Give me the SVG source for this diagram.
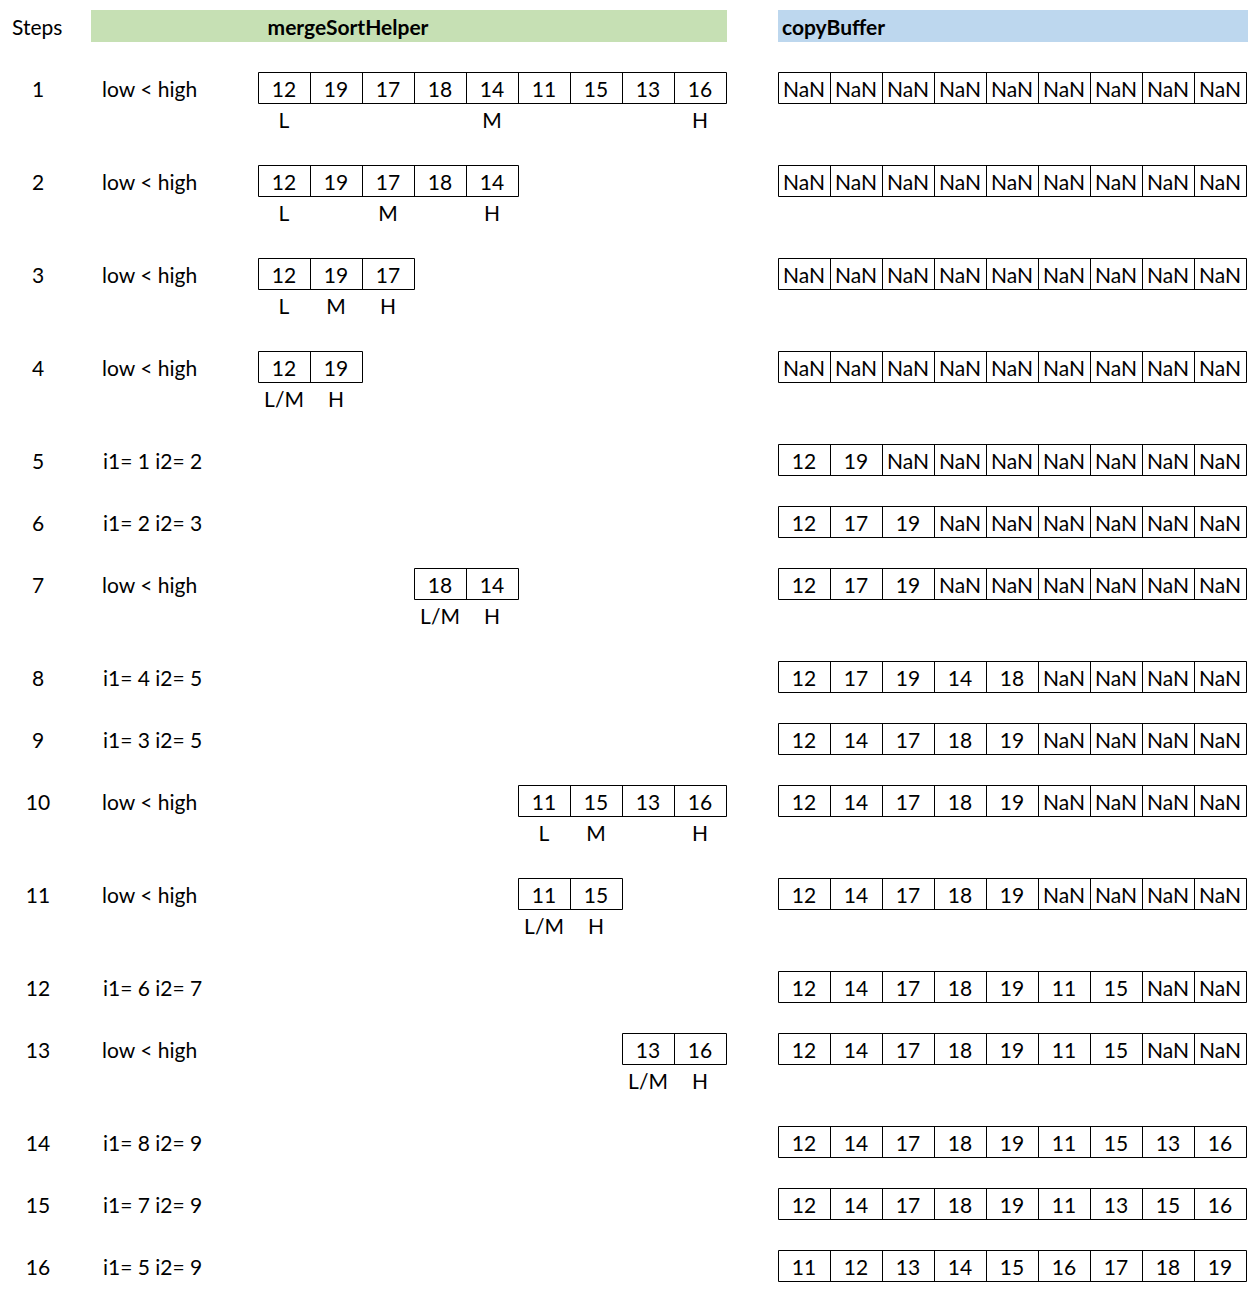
<svg xmlns="http://www.w3.org/2000/svg" xmlns:xlink="http://www.w3.org/1999/xlink" width="1253" height="1289" viewBox="0 0 1253 1289">
<style>
text{font-family:Lato,"Open Sans","Liberation Sans",sans-serif;font-size:21px;fill:#000}
.c{text-anchor:middle}
.b{font-weight:bold}
.g{fill:none;stroke:#000;stroke-width:1}
</style>
<defs>
<path id="g9" class="g" d="M0.5 0.5H468.5V31.5H0.5Z M52.5 0.5V31.5 M104.5 0.5V31.5 M156.5 0.5V31.5 M208.5 0.5V31.5 M260.5 0.5V31.5 M312.5 0.5V31.5 M364.5 0.5V31.5 M416.5 0.5V31.5"/>
<path id="g5" class="g" d="M0.5 0.5H260.5V31.5H0.5Z M52.5 0.5V31.5 M104.5 0.5V31.5 M156.5 0.5V31.5 M208.5 0.5V31.5"/>
<path id="g4" class="g" d="M0.5 0.5H208.5V31.5H0.5Z M52.5 0.5V31.5 M104.5 0.5V31.5 M156.5 0.5V31.5"/>
<path id="g3" class="g" d="M0.5 0.5H156.5V31.5H0.5Z M52.5 0.5V31.5 M104.5 0.5V31.5"/>
<path id="g2" class="g" d="M0.5 0.5H104.5V31.5H0.5Z M52.5 0.5V31.5"/>
</defs>
<rect width="1253" height="1289" fill="#fff"/>
<g id="header">
<text x="12" y="35">Steps</text>
<rect x="91" y="10" width="636" height="32" fill="#C6E0B4"/>
<text class="b c" x="348" y="35">mergeSortHelper</text>
<rect x="778" y="10" width="470" height="32" fill="#BDD7EE"/>
<text class="b" x="782" y="35">copyBuffer</text>
</g>

<g id="row1" transform="translate(0,72)">
<text class="c" x="38" y="25">1</text><text x="102" y="25">low &lt; high</text>
<use xlink:href="#g9" x="258"/>
<text class="c" x="284" y="25">12</text><text class="c" x="336" y="25">19</text><text class="c" x="388" y="25">17</text><text class="c" x="440" y="25">18</text><text class="c" x="492" y="25">14</text><text class="c" x="544" y="25">11</text><text class="c" x="596" y="25">15</text><text class="c" x="648" y="25">13</text><text class="c" x="700" y="25">16</text>
<text class="c" x="284" y="56">L</text><text class="c" x="492" y="56">M</text><text class="c" x="700" y="56">H</text>
<use xlink:href="#g9" x="778"/>
<text class="c" x="804" y="25">NaN</text><text class="c" x="856" y="25">NaN</text><text class="c" x="908" y="25">NaN</text><text class="c" x="960" y="25">NaN</text><text class="c" x="1012" y="25">NaN</text><text class="c" x="1064" y="25">NaN</text><text class="c" x="1116" y="25">NaN</text><text class="c" x="1168" y="25">NaN</text><text class="c" x="1220" y="25">NaN</text>
</g>

<g id="row2" transform="translate(0,165)">
<text class="c" x="38" y="25">2</text><text x="102" y="25">low &lt; high</text>
<use xlink:href="#g5" x="258"/>
<text class="c" x="284" y="25">12</text><text class="c" x="336" y="25">19</text><text class="c" x="388" y="25">17</text><text class="c" x="440" y="25">18</text><text class="c" x="492" y="25">14</text>
<text class="c" x="284" y="56">L</text><text class="c" x="388" y="56">M</text><text class="c" x="492" y="56">H</text>
<use xlink:href="#g9" x="778"/>
<text class="c" x="804" y="25">NaN</text><text class="c" x="856" y="25">NaN</text><text class="c" x="908" y="25">NaN</text><text class="c" x="960" y="25">NaN</text><text class="c" x="1012" y="25">NaN</text><text class="c" x="1064" y="25">NaN</text><text class="c" x="1116" y="25">NaN</text><text class="c" x="1168" y="25">NaN</text><text class="c" x="1220" y="25">NaN</text>
</g>

<g id="row3" transform="translate(0,258)">
<text class="c" x="38" y="25">3</text><text x="102" y="25">low &lt; high</text>
<use xlink:href="#g3" x="258"/>
<text class="c" x="284" y="25">12</text><text class="c" x="336" y="25">19</text><text class="c" x="388" y="25">17</text>
<text class="c" x="284" y="56">L</text><text class="c" x="336" y="56">M</text><text class="c" x="388" y="56">H</text>
<use xlink:href="#g9" x="778"/>
<text class="c" x="804" y="25">NaN</text><text class="c" x="856" y="25">NaN</text><text class="c" x="908" y="25">NaN</text><text class="c" x="960" y="25">NaN</text><text class="c" x="1012" y="25">NaN</text><text class="c" x="1064" y="25">NaN</text><text class="c" x="1116" y="25">NaN</text><text class="c" x="1168" y="25">NaN</text><text class="c" x="1220" y="25">NaN</text>
</g>

<g id="row4" transform="translate(0,351)">
<text class="c" x="38" y="25">4</text><text x="102" y="25">low &lt; high</text>
<use xlink:href="#g2" x="258"/>
<text class="c" x="284" y="25">12</text><text class="c" x="336" y="25">19</text>
<text class="c" x="284" y="56">L/M</text><text class="c" x="336" y="56">H</text>
<use xlink:href="#g9" x="778"/>
<text class="c" x="804" y="25">NaN</text><text class="c" x="856" y="25">NaN</text><text class="c" x="908" y="25">NaN</text><text class="c" x="960" y="25">NaN</text><text class="c" x="1012" y="25">NaN</text><text class="c" x="1064" y="25">NaN</text><text class="c" x="1116" y="25">NaN</text><text class="c" x="1168" y="25">NaN</text><text class="c" x="1220" y="25">NaN</text>
</g>

<g id="row5" transform="translate(0,444)">
<text class="c" x="38" y="25">5</text><text x="103" y="25">i1= 1 i2= 2</text>
<use xlink:href="#g9" x="778"/>
<text class="c" x="804" y="25">12</text><text class="c" x="856" y="25">19</text><text class="c" x="908" y="25">NaN</text><text class="c" x="960" y="25">NaN</text><text class="c" x="1012" y="25">NaN</text><text class="c" x="1064" y="25">NaN</text><text class="c" x="1116" y="25">NaN</text><text class="c" x="1168" y="25">NaN</text><text class="c" x="1220" y="25">NaN</text>
</g>

<g id="row6" transform="translate(0,506)">
<text class="c" x="38" y="25">6</text><text x="103" y="25">i1= 2 i2= 3</text>
<use xlink:href="#g9" x="778"/>
<text class="c" x="804" y="25">12</text><text class="c" x="856" y="25">17</text><text class="c" x="908" y="25">19</text><text class="c" x="960" y="25">NaN</text><text class="c" x="1012" y="25">NaN</text><text class="c" x="1064" y="25">NaN</text><text class="c" x="1116" y="25">NaN</text><text class="c" x="1168" y="25">NaN</text><text class="c" x="1220" y="25">NaN</text>
</g>

<g id="row7" transform="translate(0,568)">
<text class="c" x="38" y="25">7</text><text x="102" y="25">low &lt; high</text>
<use xlink:href="#g2" x="414"/>
<text class="c" x="440" y="25">18</text><text class="c" x="492" y="25">14</text>
<text class="c" x="440" y="56">L/M</text><text class="c" x="492" y="56">H</text>
<use xlink:href="#g9" x="778"/>
<text class="c" x="804" y="25">12</text><text class="c" x="856" y="25">17</text><text class="c" x="908" y="25">19</text><text class="c" x="960" y="25">NaN</text><text class="c" x="1012" y="25">NaN</text><text class="c" x="1064" y="25">NaN</text><text class="c" x="1116" y="25">NaN</text><text class="c" x="1168" y="25">NaN</text><text class="c" x="1220" y="25">NaN</text>
</g>

<g id="row8" transform="translate(0,661)">
<text class="c" x="38" y="25">8</text><text x="103" y="25">i1= 4 i2= 5</text>
<use xlink:href="#g9" x="778"/>
<text class="c" x="804" y="25">12</text><text class="c" x="856" y="25">17</text><text class="c" x="908" y="25">19</text><text class="c" x="960" y="25">14</text><text class="c" x="1012" y="25">18</text><text class="c" x="1064" y="25">NaN</text><text class="c" x="1116" y="25">NaN</text><text class="c" x="1168" y="25">NaN</text><text class="c" x="1220" y="25">NaN</text>
</g>

<g id="row9" transform="translate(0,723)">
<text class="c" x="38" y="25">9</text><text x="103" y="25">i1= 3 i2= 5</text>
<use xlink:href="#g9" x="778"/>
<text class="c" x="804" y="25">12</text><text class="c" x="856" y="25">14</text><text class="c" x="908" y="25">17</text><text class="c" x="960" y="25">18</text><text class="c" x="1012" y="25">19</text><text class="c" x="1064" y="25">NaN</text><text class="c" x="1116" y="25">NaN</text><text class="c" x="1168" y="25">NaN</text><text class="c" x="1220" y="25">NaN</text>
</g>

<g id="row10" transform="translate(0,785)">
<text class="c" x="38" y="25">10</text><text x="102" y="25">low &lt; high</text>
<use xlink:href="#g4" x="518"/>
<text class="c" x="544" y="25">11</text><text class="c" x="596" y="25">15</text><text class="c" x="648" y="25">13</text><text class="c" x="700" y="25">16</text>
<text class="c" x="544" y="56">L</text><text class="c" x="596" y="56">M</text><text class="c" x="700" y="56">H</text>
<use xlink:href="#g9" x="778"/>
<text class="c" x="804" y="25">12</text><text class="c" x="856" y="25">14</text><text class="c" x="908" y="25">17</text><text class="c" x="960" y="25">18</text><text class="c" x="1012" y="25">19</text><text class="c" x="1064" y="25">NaN</text><text class="c" x="1116" y="25">NaN</text><text class="c" x="1168" y="25">NaN</text><text class="c" x="1220" y="25">NaN</text>
</g>

<g id="row11" transform="translate(0,878)">
<text class="c" x="38" y="25">11</text><text x="102" y="25">low &lt; high</text>
<use xlink:href="#g2" x="518"/>
<text class="c" x="544" y="25">11</text><text class="c" x="596" y="25">15</text>
<text class="c" x="544" y="56">L/M</text><text class="c" x="596" y="56">H</text>
<use xlink:href="#g9" x="778"/>
<text class="c" x="804" y="25">12</text><text class="c" x="856" y="25">14</text><text class="c" x="908" y="25">17</text><text class="c" x="960" y="25">18</text><text class="c" x="1012" y="25">19</text><text class="c" x="1064" y="25">NaN</text><text class="c" x="1116" y="25">NaN</text><text class="c" x="1168" y="25">NaN</text><text class="c" x="1220" y="25">NaN</text>
</g>

<g id="row12" transform="translate(0,971)">
<text class="c" x="38" y="25">12</text><text x="103" y="25">i1= 6 i2= 7</text>
<use xlink:href="#g9" x="778"/>
<text class="c" x="804" y="25">12</text><text class="c" x="856" y="25">14</text><text class="c" x="908" y="25">17</text><text class="c" x="960" y="25">18</text><text class="c" x="1012" y="25">19</text><text class="c" x="1064" y="25">11</text><text class="c" x="1116" y="25">15</text><text class="c" x="1168" y="25">NaN</text><text class="c" x="1220" y="25">NaN</text>
</g>

<g id="row13" transform="translate(0,1033)">
<text class="c" x="38" y="25">13</text><text x="102" y="25">low &lt; high</text>
<use xlink:href="#g2" x="622"/>
<text class="c" x="648" y="25">13</text><text class="c" x="700" y="25">16</text>
<text class="c" x="648" y="56">L/M</text><text class="c" x="700" y="56">H</text>
<use xlink:href="#g9" x="778"/>
<text class="c" x="804" y="25">12</text><text class="c" x="856" y="25">14</text><text class="c" x="908" y="25">17</text><text class="c" x="960" y="25">18</text><text class="c" x="1012" y="25">19</text><text class="c" x="1064" y="25">11</text><text class="c" x="1116" y="25">15</text><text class="c" x="1168" y="25">NaN</text><text class="c" x="1220" y="25">NaN</text>
</g>

<g id="row14" transform="translate(0,1126)">
<text class="c" x="38" y="25">14</text><text x="103" y="25">i1= 8 i2= 9</text>
<use xlink:href="#g9" x="778"/>
<text class="c" x="804" y="25">12</text><text class="c" x="856" y="25">14</text><text class="c" x="908" y="25">17</text><text class="c" x="960" y="25">18</text><text class="c" x="1012" y="25">19</text><text class="c" x="1064" y="25">11</text><text class="c" x="1116" y="25">15</text><text class="c" x="1168" y="25">13</text><text class="c" x="1220" y="25">16</text>
</g>

<g id="row15" transform="translate(0,1188)">
<text class="c" x="38" y="25">15</text><text x="103" y="25">i1= 7 i2= 9</text>
<use xlink:href="#g9" x="778"/>
<text class="c" x="804" y="25">12</text><text class="c" x="856" y="25">14</text><text class="c" x="908" y="25">17</text><text class="c" x="960" y="25">18</text><text class="c" x="1012" y="25">19</text><text class="c" x="1064" y="25">11</text><text class="c" x="1116" y="25">13</text><text class="c" x="1168" y="25">15</text><text class="c" x="1220" y="25">16</text>
</g>

<g id="row16" transform="translate(0,1250)">
<text class="c" x="38" y="25">16</text><text x="103" y="25">i1= 5 i2= 9</text>
<use xlink:href="#g9" x="778"/>
<text class="c" x="804" y="25">11</text><text class="c" x="856" y="25">12</text><text class="c" x="908" y="25">13</text><text class="c" x="960" y="25">14</text><text class="c" x="1012" y="25">15</text><text class="c" x="1064" y="25">16</text><text class="c" x="1116" y="25">17</text><text class="c" x="1168" y="25">18</text><text class="c" x="1220" y="25">19</text>
</g>
</svg>
